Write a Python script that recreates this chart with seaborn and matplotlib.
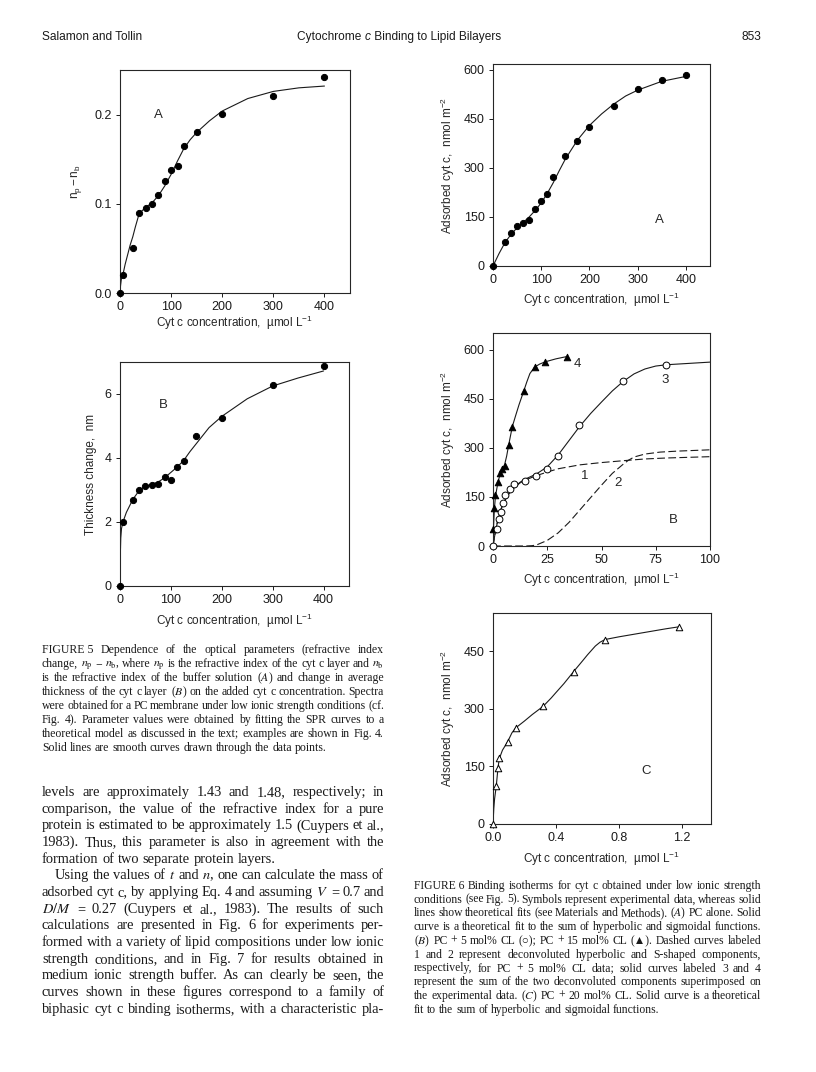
import matplotlib
matplotlib.use("Agg")
import matplotlib.pyplot as plt
import seaborn as sns

# ---- values ----
# Fig 5, PC membrane (A: n_p - n_b, B: thickness change)
conc_5 = [0, 6.25, 25, 37.5, 50, 62.5, 75, 87.5, 100, 112.5, 125, 150, 200, 300, 400]
dn_5a = [0, 0.020, 0.050, 0.090, 0.095, 0.100, 0.110, 0.125, 0.1375, 0.1425, 0.165, 0.180, 0.201, 0.221, 0.242]
thick_5b = [0, 2.0, 2.7, 3.0, 3.13, 3.15, 3.2, 3.4, 3.3, 3.73, 3.9, 4.68, 5.25, 6.28, 6.87]

fit_x_5a = [0, 1, 2.5, 6.25, 10, 15, 20, 25, 30, 37.5, 50, 62.5, 75, 87.5, 100, 112.5, 125, 137.5, 150, 175, 200, 250, 300, 350, 400]
fit_y_5a = [0, 0.008, 0.015, 0.022, 0.032, 0.043, 0.054, 0.063, 0.074, 0.089, 0.096, 0.101, 0.109, 0.120, 0.133, 0.148, 0.162, 0.172, 0.180, 0.193, 0.204, 0.218, 0.226, 0.230, 0.232]

fit_x_5b = [0, 0.5, 1.5, 3, 6.25, 12.5, 25, 37.5, 50, 62.5, 75, 87.5, 100, 112.5, 125, 137.5, 150, 175, 200, 250, 300, 350, 400]
fit_y_5b = [0, 0.9, 1.5, 1.8, 2.02, 2.3, 2.7, 2.98, 3.12, 3.18, 3.25, 3.38, 3.55, 3.72, 3.92, 4.2, 4.45, 4.95, 5.3, 5.85, 6.25, 6.5, 6.72]

# Fig 6A, PC alone
conc_6a = [0, 25, 37.5, 50, 62.5, 75, 87.5, 100, 112.5, 125, 150, 175, 200, 250, 300, 350, 400]
ads_6a = [0, 73, 100, 121, 131, 142, 173, 199, 220, 273, 337, 382, 426, 490, 543, 569, 585]
fit_x_6a = [0, 12.5, 25, 37.5, 50, 62.5, 75, 87.5, 100, 112.5, 125, 137.5, 150, 175, 200, 225, 250, 275, 300, 350, 400]
fit_y_6a = [0, 38, 72, 97, 117, 133, 150, 170, 193, 222, 255, 292, 327, 385, 430, 465, 495, 520, 538, 565, 580]

# Fig 6B, PC + 5 mol% CL (open circles) and PC + 15 mol% CL (filled triangles)
conc_cl5 = [0, 1.7, 2.8, 3.7, 4.5, 5.5, 7.7, 9.5, 14.7, 19.8, 24.9, 29.8, 39.8, 59.8, 79.7]
ads_cl5 = [0, 52, 83, 104, 131, 157, 174, 188, 199, 214, 235, 276, 370, 505, 552]
conc_cl15 = [0.2, 0.6, 1.1, 2.2, 3.2, 4.1, 5.4, 7.2, 8.9, 14.3, 19.2, 24.1, 34.0]
ads_cl15 = [51, 115, 156, 195, 224, 235, 245, 308, 365, 475, 547, 563, 579]

hyp_x = [0, 1, 2, 3, 4, 5, 6, 8, 10, 12.5, 15, 20, 25, 30, 40, 50, 62.4, 70, 80, 90, 100]
hyp_y = [0, 40, 72, 97, 118, 133, 146, 165, 180, 193, 202, 215, 226, 236, 248, 255, 262, 266, 269, 271, 273]
sig_x = [0, 15, 18, 20, 25, 30, 35, 40, 45, 50, 55, 60, 62.4, 65, 70, 77, 85, 100]
sig_y = [0, 0, 1, 3, 17, 40, 72, 110, 148, 186, 222, 250, 262, 272, 281, 287, 290, 294]
sum5_x = [0, 1, 2, 3, 4, 5, 6, 8, 10, 12.5, 15, 20, 25, 30, 35, 40, 45, 50, 55, 60, 65, 70, 75, 80, 90, 100]
sum5_y = [0, 40, 72, 97, 118, 133, 146, 166, 181, 195, 205, 220, 242, 278, 322, 366, 405, 440, 474, 503, 526, 541, 550, 554, 558, 562]
sum15_x = [0, 0.2, 0.6, 1.1, 2.2, 3.2, 4.1, 5.4, 6.3, 7.2, 8.9, 10.5, 12, 13.2, 14.3, 15.5, 17, 19.2, 21.5, 24.1, 29, 34]
sum15_y = [0, 51, 110, 150, 192, 218, 232, 250, 275, 308, 365, 400, 432, 455, 476, 500, 527, 547, 556, 563, 572, 579]

# Fig 6C, PC + 20 mol% CL
conc_6c = [0, 0.021, 0.032, 0.040, 0.093, 0.144, 0.318, 0.515, 0.712, 1.18]
ads_6c = [0, 100, 147, 172, 214, 251, 306, 395, 479, 513]
fit_x_6c = [0, 0.005, 0.01, 0.021, 0.032, 0.040, 0.06, 0.093, 0.12, 0.144, 0.2, 0.25, 0.318, 0.37, 0.4, 0.45, 0.515, 0.57, 0.6, 0.65, 0.68, 0.712, 0.8, 0.9, 1.0, 1.1, 1.18]
fit_y_6c = [0, 40, 65, 100, 147, 170, 192, 214, 237, 250, 268, 285, 306, 328, 342, 365, 398, 425, 440, 463, 473, 480, 487, 494, 501, 508, 513]

# ---- page text ----
cap5 = [
    ("FIGURE~5 Dependence of the optical parameters (refractive index", True),
    ("change, $n_\\mathrm{p}$ \u2212 $n_\\mathrm{b}$, where $n_\\mathrm{p}$ is the refractive index of the cyt c layer and $n_\\mathrm{b}$", True),
    ("is the refractive index of the buffer solution ($\\mathit{A}$) and change in average", True),
    ("thickness of the cyt c layer ($\\mathit{B}$) on the added cyt c concentration. Spectra", True),
    ("were obtained for a PC membrane under low ionic strength conditions (cf.", True),
    ("Fig. 4). Parameter values were obtained by fitting the SPR curves to a", True),
    ("theoretical model as discussed in the text; examples are shown in Fig. 4.", True),
    ("Solid lines are smooth curves drawn through the data points.", False),
]
body = [
    ("levels are approximately 1.43 and 1.48, respectively; in", True),
    ("comparison, the value of the refractive index for a pure", True),
    ("protein is estimated to be approximately 1.5 (Cuypers et al.,", True),
    ("1983). Thus, this parameter is also in agreement with the", True),
    ("formation of two separate protein layers.", False),
    ("Using the values of $\\mathit{t}$ and $\\mathit{n}$, one can calculate the mass of", True),
    ("adsorbed cyt c, by applying Eq. 4 and assuming $\\mathit{V}$ = 0.7 and", True),
    ("$\\mathit{D/M}$ = 0.27 (Cuypers et al., 1983). The results of such", True),
    ("calculations are presented in Fig. 6 for experiments per-", True),
    ("formed with a variety of lipid compositions under low ionic", True),
    ("strength conditions, and in Fig. 7 for results obtained in", True),
    ("medium ionic strength buffer. As can clearly be seen, the", True),
    ("curves shown in these figures correspond to a family of", True),
    ("biphasic cyt c binding isotherms, with a characteristic pla-", True),
]
cap6 = [
    ("FIGURE~6 Binding isotherms for cyt c obtained under low ionic strength", True),
    ("conditions (see Fig. 5). Symbols represent experimental data, whereas solid", True),
    ("lines show theoretical fits (see Materials and Methods). ($\\mathit{A}$) PC alone. Solid", True),
    ("curve is a theoretical fit to the sum of hyperbolic and sigmoidal functions.", True),
    ("($\\mathit{B}$) PC + 5 mol% CL (\u25cb); PC + 15 mol% CL (\u25b2). Dashed curves labeled", True),
    ("1 and 2 represent deconvoluted hyperbolic and S-shaped components,", True),
    ("respectively, for PC + 5 mol% CL data; solid curves labeled 3 and 4", True),
    ("represent the sum of the two deconvoluted components superimposed on", True),
    ("the experimental data. ($\\mathit{C}$) PC + 20 mol% CL. Solid curve is a theoretical", True),
    ("fit to the sum of hyperbolic and sigmoidal functions.", False),
]

sns.set_theme(style="ticks")
plt.rcParams["font.family"] = ["Liberation Sans", "DejaVu Sans"]
plt.rcParams["mathtext.fontset"] = "stix"

W, H = 816, 1072
fig = plt.figure(figsize=(W / 100, H / 100), dpi=100)
fig.patch.set_facecolor("white")
renderer = fig.canvas.get_renderer()
SERIF = ["Liberation Serif", "DejaVu Sans"]


def fx(px):
    return px / W


def fy(py):
    return 1 - py / H


def add_ax(x0, y0, x1, y1):
    ax = fig.add_axes([fx(x0), fy(y1), (x1 - x0) / W, (y1 - y0) / H])
    for s in ax.spines.values():
        s.set_linewidth(0.8)
        s.set_color("0.15")
    ax.tick_params(direction="out", length=3, width=0.7, labelsize=9, colors="0.1", pad=3)
    return ax


def style_labels(ax, xl, yl, xlab_y, ylab_x):
    ax.set_xlabel(xl, fontsize=8.5)
    ax.set_ylabel(yl, fontsize=8.5)
    ax.xaxis.set_label_coords(0.5, xlab_y)
    ax.yaxis.set_label_coords(ylab_x, 0.5)


XLAB = "Cyt c concentration,  \u00b5mol L$\\mathregular{^{-1}}$"
YLAB = "Adsorbed cyt c,  nmol m$\\mathregular{^{-2}}$"


def fit_line(ax, x, y, **kw):
    sns.lineplot(x=x, y=y, ax=ax, color="0.1", linewidth=0.8, estimator=None, sort=False, **kw)


def dots(ax, x, y, marker="o", filled=True, s=20):
    fc = "black" if filled else "white"
    sns.scatterplot(x=x, y=y, ax=ax, marker=marker, s=s, facecolor=fc, edgecolor="black",
                    linewidth=0.7, clip_on=False, zorder=3)


# Fig 5A
ax = add_ax(120, 70, 350, 293)
fit_line(ax, fit_x_5a, fit_y_5a)
dots(ax, conc_5, dn_5a)
ax.set_xlim(0, 450)
ax.set_ylim(0, 0.25)
ax.set_xticks([0, 100, 200, 300, 400])
ax.set_yticks([0.0, 0.1, 0.2])
ax.set_yticklabels(["0.0", "0.1", "0.2"])
style_labels(ax, XLAB, "$\\mathregular{n_p - n_b}$", -0.095, -0.155)
ax.text(0.167, 0.80, "A", transform=ax.transAxes, fontsize=9.5, ha="center", va="center")

# Fig 5B
ax = add_ax(120, 362, 349, 586)
fit_line(ax, fit_x_5b, fit_y_5b)
dots(ax, conc_5, thick_5b)
ax.set_xlim(0, 450)
ax.set_ylim(0, 7)
ax.set_xticks([0, 100, 200, 300, 400])
ax.set_yticks([0, 2, 4, 6])
style_labels(ax, XLAB, "Thickness change,  nm", -0.115, -0.10)
ax.text(0.189, 0.81, "B", transform=ax.transAxes, fontsize=9.5, ha="center", va="center")

# Fig 6A
ax = add_ax(493, 64, 710, 266)
fit_line(ax, fit_x_6a, fit_y_6a)
dots(ax, conc_6a, ads_6a)
ax.set_xlim(0, 450)
ax.set_ylim(0, 618)
ax.set_xticks([0, 100, 200, 300, 400])
ax.set_yticks([0, 150, 300, 450, 600])
style_labels(ax, XLAB, YLAB, -0.125, -0.165)
ax.text(0.765, 0.23, "A", transform=ax.transAxes, fontsize=9.5, ha="center", va="center")

# Fig 6B
ax = add_ax(493, 333, 710, 546)
fit_line(ax, hyp_x, hyp_y, linestyle=(0, (7, 3)))
fit_line(ax, sig_x, sig_y, linestyle=(0, (7, 3)))
fit_line(ax, sum5_x, sum5_y)
fit_line(ax, sum15_x, sum15_y)
dots(ax, conc_cl15, ads_cl15, marker="^", s=22)
dots(ax, conc_cl5, ads_cl5, filled=False, s=24)
ax.set_xlim(0, 100)
ax.set_ylim(0, 651)
ax.set_xticks([0, 25, 50, 75, 100])
ax.set_yticks([0, 150, 300, 450, 600])
style_labels(ax, XLAB, YLAB, -0.115, -0.165)
ax.text(0.831, 0.12, "B", transform=ax.transAxes, fontsize=9.5, ha="center", va="center")
for lab, lx, ly in [("1", 42.4, 215), ("2", 57.8, 192), ("3", 79.3, 508), ("4", 39, 556)]:
    ax.text(lx, ly, lab, fontsize=9.5, ha="center", va="center")

# Fig 6C
ax = add_ax(493, 613, 711, 824)
fit_line(ax, fit_x_6c, fit_y_6c)
dots(ax, conc_6c, ads_6c, marker="^", filled=False, s=22)
ax.set_xlim(0, 1.385)
ax.set_ylim(0, 549)
ax.set_xticks([0.0, 0.4, 0.8, 1.2])
ax.set_xticklabels(["0.0", "0.4", "0.8", "1.2"])
ax.set_yticks([0, 150, 300, 450])
style_labels(ax, XLAB, YLAB, -0.12, -0.165)
ax.text(0.702, 0.253, "C", transform=ax.transAxes, fontsize=9.5, ha="center", va="center")


# ---- text blocks, justified like the printed page ----
def put_par(lines, left, right, first_base, step, size, indent_rows=()):
    space = size * 100 / 72 * 0.25
    for i, (line, just) in enumerate(lines):
        base = first_base + i * step
        x = left + (13 if i in indent_rows else 0)
        words = [w.replace("~", " ") for w in line.split(" ")]
        texts = [fig.text(0, fy(base), w, fontsize=size, family=SERIF, va="baseline", color="0.1")
                 for w in words]
        widths = [t.get_window_extent(renderer).width for t in texts]
        gap = space
        if just and len(words) > 1:
            gap = max((right - x - sum(widths)) / (len(words) - 1), 1.2)
        for t, w in zip(texts, widths):
            t.set_x(fx(x))
            x += w + gap


put_par(cap5, 42, 384, 653, 14, 8.5)
put_par(body, 42, 384, 796, 16.67, 10.4, indent_rows=(5,))
put_par(cap6, 414, 761, 889, 13.75, 8.4)


# page header
def put_runs(runs, x, base, size):
    for txt, st in runs:
        t = fig.text(fx(x), fy(base), txt, fontsize=size, style=st, va="baseline",
                     family=["Liberation Sans", "DejaVu Sans"], color="0.1")
        x += t.get_window_extent(renderer).width


put_runs([("Salamon and Tollin", "normal")], 42, 40, 8.6)
put_runs([("Cytochrome ", "normal"), ("c", "italic"), (" Binding to Lipid Bilayers", "normal")], 297, 40, 8.6)
put_runs([("853", "normal")], 742, 40, 8.6)

fig.savefig("out.png", dpi=100)
